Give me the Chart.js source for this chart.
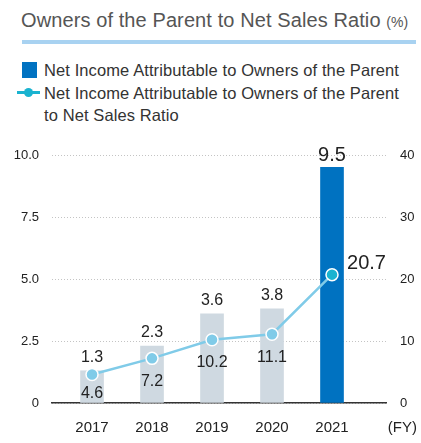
<!DOCTYPE html>
<html>
<head>
<meta charset="utf-8">
<script src="https://cdn.jsdelivr.net/npm/chart.js@4/dist/chart.umd.min.js"></script>
<style>
  html, body { margin: 0; padding: 0; background: #fff; }
  body { width: 421px; height: 443px; position: relative; overflow: hidden;
         font-family: "Liberation Sans", Arial, Helvetica, sans-serif; }
  #title { position: absolute; left: 21px; top: 8px; font-size: 20px; line-height: 24px; color: #555; white-space: nowrap; letter-spacing: 0.1px; }
  #title small { font-size: 14px; }
  #rule { position: absolute; left: 22px; top: 40px; width: 394px; height: 4px; background: #a8d2f1; }
  .leg { position: absolute; left: 44px; font-size: 16.5px; color: #333; white-space: nowrap; line-height: 22px; letter-spacing: 0.1px; }
  #sw1 { position: absolute; left: 22px; top: 62px; width: 15px; height: 16px; background: #0072c1; }
  #sw2line { position: absolute; left: 17px; top: 91px; width: 23px; height: 2.5px; background: #1ab3d0; }
  #sw2dot { position: absolute; left: 24px; top: 88px; width: 9px; height: 9px; border-radius: 50%; background: #1ab3d0; }
  #wrap { position: absolute; left: 0; top: 0; width: 421px; height: 443px; }
</style>
</head>
<body>
<div id="title">Owners of the Parent to Net Sales Ratio <small>(%)</small></div>
<div id="rule"></div>
<div id="sw1"></div>
<div class="leg" style="top:59px">Net Income Attributable to Owners of the Parent</div>
<div id="sw2line"></div><div id="sw2dot"></div>
<div class="leg" style="top:81.5px">Net Income Attributable to Owners of the Parent</div>
<div class="leg" style="top:103.5px">to Net Sales Ratio</div>
<div id="wrap"><canvas id="c" width="421" height="443"></canvas></div>
<script>
// Fiscal years and values
const years = [2017, 2018, 2019, 2020, 2021];
const netIncome = [1.3, 2.3, 3.6, 3.8, 9.5];        // left axis
const salesRatio = [4.6, 7.2, 10.2, 11.1, 20.7];    // right axis (%)
const leftTicks = [0, 2.5, 5, 7.5, 10];
const rightTicks = [0, 10, 20, 30, 40];

const barColors = years.map((y, i) => i === years.length - 1 ? '#0072c1' : '#cfd9e1');
const pointColors = years.map((y, i) => i === years.length - 1 ? '#1ab3d0' : '#80cbe8');
const FONT = '"Liberation Sans", Arial, Helvetica, sans-serif';

// Value labels drawn next to bars and points
const valueLabels = {
  id: 'valueLabels',
  afterDatasetsDraw(chart) {
    const ctx = chart.ctx;
    ctx.save();
    ctx.fillStyle = '#222';
    ctx.textAlign = 'center';
    const last = years.length - 1;
    chart.getDatasetMeta(1).data.forEach((bar, i) => {
      const big = i === last;
      ctx.font = (big ? '20px ' : '16px ') + FONT;
      ctx.textBaseline = 'bottom';
      ctx.fillText(netIncome[i].toFixed(1), bar.x, bar.y - (big ? 2 : 5));
    });
    chart.getDatasetMeta(0).data.forEach((pt, i) => {
      if (i === last) {
        ctx.font = '20px ' + FONT;
        ctx.textAlign = 'left';
        ctx.textBaseline = 'middle';
        ctx.fillText(salesRatio[i].toFixed(1), pt.x + 15, pt.y - 11);
        ctx.textAlign = 'center';
      } else {
        ctx.font = '16px ' + FONT;
        ctx.textBaseline = 'middle';
        ctx.fillText(salesRatio[i].toFixed(1), pt.x, pt.y + (i === 0 ? 19 : 23));
      }
    });
    // fiscal-year unit at the right end of the category axis
    const xs = chart.scales.x;
    ctx.font = '15px ' + FONT;
    ctx.textAlign = 'right';
    ctx.textBaseline = 'middle';
    ctx.fillText('(FY)', 417, xs.top + 25);
    ctx.restore();
  }
};

new Chart(document.getElementById('c'), {
  type: 'bar',
  data: {
    datasets: [
      {
        type: 'line',
        label: 'Net Income Attributable to Owners of the Parent to Net Sales Ratio',
        data: years.map((y, i) => ({ x: y, y: salesRatio[i] })),
        yAxisID: 'y1',
        borderColor: '#80cbe8',
        borderWidth: 2.5,
        pointBackgroundColor: pointColors,
        pointBorderColor: '#fff',
        pointBorderWidth: 1.5,
        pointRadius: 6,
        tension: 0,
        order: 0
      },
      {
        type: 'bar',
        label: 'Net Income Attributable to Owners of the Parent',
        data: years.map((y, i) => ({ x: y, y: netIncome[i] })),
        yAxisID: 'y',
        backgroundColor: barColors,
        barThickness: 23,
        order: 1
      }
    ]
  },
  options: {
    responsive: false,
    animation: false,
    events: [],
    layout: { padding: { top: 155, left: 0, right: 0, bottom: 0 } },
    plugins: { legend: { display: false }, tooltip: { enabled: false } },
    scales: {
      x: {
        type: 'linear',
        offset: false,
        min: 2016.333,
        max: 2021.9,
        grid: { display: false, drawTicks: false },
        border: { display: true, color: '#333', width: 1.5 },
        afterFit(s) { s.height = 40; },
        afterBuildTicks(s) { s.ticks = years.map(v => ({ value: v })); },
        ticks: {
          padding: 16,
          color: '#222',
          font: { family: FONT, size: 15 },
          callback: v => String(v)
        }
      },
      y: {
        position: 'left',
        min: 0, max: 10,
        afterFit(s) { s.width = 52; },
        afterBuildTicks(s) { s.ticks = leftTicks.map(v => ({ value: v })); },
        grid: { color: '#c4c4c4', lineWidth: 1, drawTicks: false },
        border: { display: false, dash: [1, 2] },
        ticks: {
          padding: 13,
          color: '#222',
          font: { family: FONT, size: 13 },
          callback: v => v === 0 ? '0' : v.toFixed(1)
        }
      },
      y1: {
        position: 'right',
        min: 0, max: 40,
        afterFit(s) { s.width = 35; },
        afterBuildTicks(s) { s.ticks = rightTicks.map(v => ({ value: v })); },
        grid: { display: false, drawTicks: false },
        border: { display: false },
        ticks: {
          padding: 14,
          color: '#222',
          font: { family: FONT, size: 13 },
          callback: v => String(v)
        }
      }
    }
  },
  plugins: [valueLabels]
});
</script>
</body>
</html>
